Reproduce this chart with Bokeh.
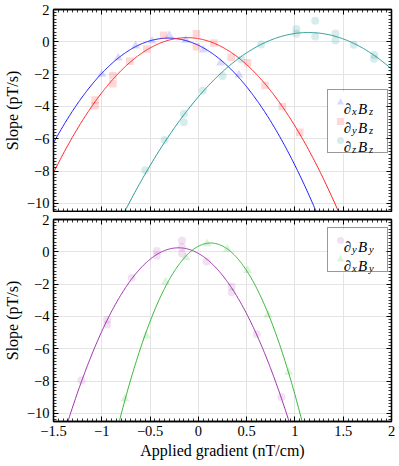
import numpy as np
from bokeh.plotting import figure
from bokeh.models import (Range1d, LinearAxis, SingleIntervalTicker, CustomJSTickFormatter,
                          Legend, LegendItem, Label, BoxAnnotation)
from bokeh.layouts import column
from bokeh.embed import file_html
from bokeh.resources import INLINE

# ---------------- data ----------------
# top panel
dxbz_x = [-1.0, -0.83, -0.65, -0.48, -0.3, -0.13, 0.05, 0.23, 0.42]
dxbz_y = [-2.0, -1.0, -0.25, 0.05, 0.4, 0.1, -0.5, -1.3, -2.05]

dybz_x = [-1.07, -1.07, -0.885, -0.885, -0.71, -0.535, -0.36, -0.02, -0.02,
          0.16, 0.34, 0.51, 0.69, 0.87, 1.05]
dybz_y = [-3.6, -3.95, -2.1, -2.6, -1.2, -0.45, 0.4, 0.5, -0.3,
          -0.08, -0.95, -1.3, -2.7, -4.0, -5.6]

dzbz_x = [-0.55, -0.35, -0.15, -0.15, 0.045, 0.25, 0.445, 0.65, 1.015, 1.015,
          1.21, 1.21, 1.42, 1.42, 1.61, 1.82, 1.82]
dzbz_y = [-7.95, -6.07, -4.45, -4.98, -3.02, -2.12, -1.09, -0.17, 0.8, 0.5,
          1.3, 0.33, 0.52, 0.08, -0.18, -0.82, -1.05]

# bottom panel
dyby_x = [-1.21, -0.945, -0.945, -0.69, -0.43, -0.43, -0.17, -0.17, -0.17,
          0.085, 0.345, 0.345, 0.605, 0.86]
dyby_y = [-7.95, -4.2, -4.5, -1.6, 0.05, -0.25, 0.7, 0.3, -0.1,
          -0.6, -2.15, -2.5, -5.1, -9.0]

dxby_x = [-0.76, -0.54, -0.34, -0.13, 0.09, 0.30, 0.51, 0.72, 0.935]
dxby_y = [-9.1, -5.2, -1.87, -0.36, 0.5, 0.16, -1.15, -3.9, -7.45]

x_limits = (-1.5, 2.0)
y_limits = (-10.5, 2.0)

SERIF = "Liberation Serif"

BLUE = "#1a1aff"
RED = "#ff2020"
TEAL = "#249793"
PURPLE = "#a033ae"
GREEN = "#38b838"

FRAME_W = 339
FRAME_H = 202

x_grid = np.linspace(x_limits[0], x_limits[1], 400)


def fit_curve(xs, ys):
    coef = np.polyfit(xs, ys, 2)
    return np.polyval(coef, x_grid)


fmt = CustomJSTickFormatter(code="""
const v = Math.round(tick * 100) / 100;
const s = Math.abs(v).toString();
return v < 0 ? '\u2212' + s : s;
""")
empty_fmt = CustomJSTickFormatter(code="return '';")


def style_axis(ax, ticker, show_labels):
    ax.ticker = ticker
    ax.axis_line_color = "black"
    ax.axis_line_width = 1.3
    ax.major_tick_in = 5
    ax.major_tick_out = 0
    ax.minor_tick_in = 3
    ax.minor_tick_out = 0
    ax.major_tick_line_color = "black"
    ax.minor_tick_line_color = "black"
    ax.major_tick_line_width = 1
    ax.minor_tick_line_width = 0.8
    if show_labels:
        ax.formatter = fmt
        ax.major_label_text_font = SERIF
        ax.major_label_text_font_size = "14.5px"
        ax.major_label_text_color = "black"
        ax.major_label_standoff = 4
        ax.axis_label_text_font = SERIF
        ax.axis_label_text_font_size = "16px"
        ax.axis_label_text_font_style = "normal"
        ax.axis_label_text_color = "black"
        ax.axis_label_standoff = 3
    else:
        ax.formatter = empty_fmt
        ax.major_label_text_font_size = "0px"
        ax.major_label_standoff = 0
        ax.axis_label_standoff = 0
        ax.axis_label_text_font_size = "0px"


def make_fig(height, top, bottom, x_range, show_x_labels):
    p = figure(width=399, height=height, x_range=x_range,
               y_range=Range1d(*y_limits), output_backend="svg",
               toolbar_location=None, min_border_left=52, min_border_right=8,
               min_border_top=top, min_border_bottom=bottom)
    xt = SingleIntervalTicker(interval=0.5, num_minor_ticks=10)
    yt = SingleIntervalTicker(interval=2, num_minor_ticks=10)
    p.add_layout(LinearAxis(), "above")
    p.add_layout(LinearAxis(), "right")
    style_axis(p.below[0], xt, show_x_labels)
    style_axis(p.above[0], xt, False)
    style_axis(p.left[0], yt, True)
    style_axis(p.right[0], yt, False)
    p.left[0].axis_label = "Slope (pT/s)"
    p.xgrid.ticker = xt
    p.ygrid.ticker = yt
    p.xgrid.grid_line_color = "#e4e4e4"
    p.ygrid.grid_line_color = "#e4e4e4"
    p.xgrid.grid_line_width = 1
    p.ygrid.grid_line_width = 1
    p.outline_line_color = "black"
    p.outline_line_width = 1.3
    p.background_fill_color = "white"
    p.border_fill_color = "white"
    return p


def px_to_data(fx, fy):
    # frame-relative pixel position -> data coordinates (for legend text placement)
    x = x_limits[0] + fx * (x_limits[1] - x_limits[0]) / FRAME_W
    y = y_limits[0] + fy * (y_limits[1] - y_limits[0]) / FRAME_H
    return x, y


def math_legend_text(p, yc, sub1, sub2, x0=291):
    parts = [("\u2202", x0, yc - 5, "15px"),
             (sub1, x0 + 8.5, yc - 7.5, "10.5px"),
             ("B", x0 + 14.5, yc - 5, "15px"),
             (sub2, x0 + 25.5, yc - 7.5, "10.5px")]
    for txt, fx, fy, fs in parts:
        xx, yy = px_to_data(fx, fy)
        p.add_layout(Label(x=xx, y=yy, text=txt, text_font=SERIF,
                           text_font_size=fs, text_font_style="italic",
                           text_color="black", text_align="left",
                           text_baseline="alphabetic"))


def make_legend(p, renderers, location):
    n = len(renderers)
    w, h = 58, n * 18 + (n - 1) * 1 + 6
    # opaque white backing under the legend (kept below glyphs, grid-covering)
    p.add_layout(BoxAnnotation(left=location[0], right=location[0] + w,
                               bottom=location[1], top=location[1] + h,
                               left_units="screen", right_units="screen",
                               bottom_units="screen", top_units="screen",
                               fill_color="white", fill_alpha=1.0,
                               line_color=None, level="underlay"))
    p.add_layout(Legend(items=[LegendItem(label=" ", renderers=[r]) for r in renderers],
                        location=location, padding=3, spacing=1, glyph_width=18,
                        glyph_height=18, label_height=18, label_width=33,
                        label_standoff=2, margin=0, border_line_color="#333333",
                        border_line_width=1, background_fill_alpha=0.0,
                        label_text_font_size="14px"))


xr = Range1d(*x_limits)

# ---------------- top panel ----------------
p1 = make_fig(212, 9, 1, xr, False)
p1.line(x_grid, fit_curve(dxbz_x, dxbz_y), line_color=BLUE, line_width=1)
p1.line(x_grid, fit_curve(dybz_x, dybz_y), line_color=RED, line_width=1)
p1.line(x_grid, fit_curve(dzbz_x, dzbz_y), line_color=TEAL, line_width=1)
r_xbz = p1.scatter(dxbz_x, dxbz_y, marker="triangle", size=9, fill_color=BLUE,
                   fill_alpha=0.16, line_color=None)
r_ybz = p1.scatter(dybz_x, dybz_y, marker="square", size=7.5, fill_color=RED,
                   fill_alpha=0.18, line_color=None)
r_zbz = p1.scatter(dzbz_x, dzbz_y, marker="circle", size=8, fill_color=TEAL,
                   fill_alpha=0.18, line_color=None)

make_legend(p1, [r_xbz, r_ybz, r_zbz], (274, 58))
math_legend_text(p1, 108, "x", "z")
math_legend_text(p1, 89, "y", "z")
math_legend_text(p1, 70, "z", "z")

# ---------------- bottom panel ----------------
p2 = make_fig(254, 7, 45, xr, True)
p2.below[0].axis_label = "Applied gradient (nT/cm)"
p2.line(x_grid, fit_curve(dyby_x, dyby_y), line_color=PURPLE, line_width=1)
p2.line(x_grid, fit_curve(dxby_x, dxby_y), line_color=GREEN, line_width=1)
r_yby = p2.scatter(dyby_x, dyby_y, marker="circle", size=8, fill_color=PURPLE,
                   fill_alpha=0.15, line_color=None)
r_xby = p2.scatter(dxby_x, dxby_y, marker="triangle", size=9, fill_color=GREEN,
                   fill_alpha=0.18, line_color=None)

make_legend(p2, [r_yby, r_xby], (274, 149))
math_legend_text(p2, 180, "y", "y")
math_legend_text(p2, 161, "x", "y")

layout = column(p1, p2, spacing=0)

open("out.html", "w").write(file_html(layout, INLINE))
